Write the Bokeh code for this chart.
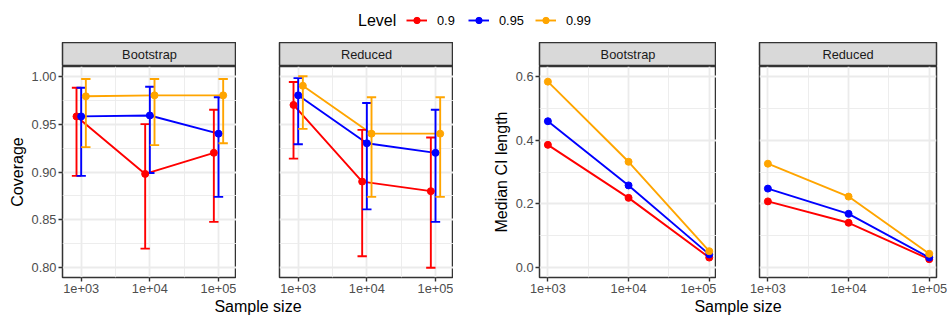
import numpy as np
from bokeh.plotting import figure
from bokeh.models import Range1d, FixedTicker, Label, Legend, LegendItem, PrintfTickFormatter
from bokeh.layouts import row, column
from bokeh.embed import file_html
from bokeh.resources import INLINE

# ---------------- data ----------------
sample_size = [1e3, 1e4, 1e5]
x_ticks = [1e3, 1e4, 1e5]
x_tick_labels = ["1e+03", "1e+04", "1e+05"]
levels = ["0.9", "0.95", "0.99"]
level_colors = ["#FF0000", "#0000FF", "#FFA500"]
methods = ["Bootstrap", "Reduced"]

# Coverage (point, lower, upper) - Bootstrap
cov_boot_090 = [0.958, 0.898, 0.920]
cov_boot_090_lo = [0.896, 0.820, 0.848]
cov_boot_090_hi = [0.988, 0.950, 0.965]
cov_boot_095 = [0.958, 0.959, 0.940]
cov_boot_095_lo = [0.896, 0.899, 0.874]
cov_boot_095_hi = [0.988, 0.989, 0.978]
cov_boot_099 = [0.979, 0.980, 0.980]
cov_boot_099_lo = [0.926, 0.928, 0.930]
cov_boot_099_hi = [0.997, 0.997, 0.997]

# Coverage - Reduced
cov_red_090 = [0.970, 0.890, 0.880]
cov_red_090_lo = [0.914, 0.812, 0.800]
cov_red_090_hi = [0.994, 0.944, 0.936]
cov_red_095 = [0.980, 0.930, 0.920]
cov_red_095_lo = [0.929, 0.861, 0.848]
cov_red_095_hi = [0.998, 0.972, 0.965]
cov_red_099 = [0.990, 0.940, 0.940]
cov_red_099_lo = [0.945, 0.874, 0.874]
cov_red_099_hi = [1.000, 0.978, 0.978]

# Median CI length
len_boot_090 = [0.385, 0.219, 0.032]
len_boot_095 = [0.459, 0.258, 0.042]
len_boot_099 = [0.583, 0.332, 0.052]
len_red_090 = [0.208, 0.141, 0.027]
len_red_095 = [0.248, 0.169, 0.032]
len_red_099 = [0.326, 0.223, 0.044]

cov_y_ticks = [0.80, 0.85, 0.90, 0.95, 1.00]
cov_y_minor = [0.825, 0.875, 0.925, 0.975]
len_y_ticks = [0.0, 0.2, 0.4, 0.6]
len_y_minor = [0.1, 0.3, 0.5]
x_minor = [10 ** 3.5, 10 ** 4.5]

# ---------------- styling / layout ----------------
FONT = "Liberation Sans"
W_TOTAL = 947
LEG_H = 42
STRIP_H = 24
FRAME_H = 211
BOTTOM = 21
TITLE_H = 18
LINE_W = 1.9
PT_SIZE = 7
DODGE = [-0.068, 0.0, 0.068]   # log10 units
CAP = 0.068                     # half cap width, log10 units

cov_xr = (10 ** 2.728, 10 ** 5.262)
len_xr = (10 ** 2.896, 10 ** 5.09)
cov_yr = (0.7899, 1.0101)
len_yr = (-0.0304, 0.6304)


def style_axis(ax):
    ax.axis_line_color = None
    ax.major_tick_line_color = "#333333"
    ax.major_tick_line_width = 1.4
    ax.major_tick_out = 4
    ax.major_tick_in = 0
    ax.minor_tick_line_color = None
    ax.major_label_text_font = FONT
    ax.major_label_text_font_size = "12.8px"
    ax.major_label_text_color = "#4D4D4D"
    ax.major_label_standoff = 2
    ax.axis_label_text_font = FONT
    ax.axis_label_text_font_size = "16px"
    ax.axis_label_text_font_style = "normal"
    ax.axis_label_text_color = "black"
    ax.axis_label_standoff = 3


def make_panel(width, left, right, xr, yr, yticks, yminor, yfmt, show_y, ylabel):
    p = figure(width=width, height=FRAME_H + BOTTOM, x_axis_type="log",
               x_range=Range1d(*xr), y_range=Range1d(*yr),
               min_border_left=left, min_border_right=right,
               min_border_top=0, min_border_bottom=BOTTOM,
               toolbar_location=None, output_backend="svg",
               background_fill_color="white", border_fill_color="white",
               outline_line_color="#333333", outline_line_width=1.5)
    xt = FixedTicker(ticks=x_ticks, minor_ticks=x_minor)
    yt = FixedTicker(ticks=yticks, minor_ticks=yminor)
    p.xaxis.ticker = xt
    p.yaxis.ticker = yt
    p.xgrid.ticker = xt
    p.ygrid.ticker = yt
    p.xaxis.major_label_overrides = {t: s for t, s in zip(x_ticks, x_tick_labels)}
    p.yaxis.formatter = PrintfTickFormatter(format=yfmt)
    style_axis(p.xaxis[0])
    style_axis(p.yaxis[0])
    for g in (p.xgrid[0], p.ygrid[0]):
        g.grid_line_color = "#EBEBEB"
        g.grid_line_width = 1.8
        g.minor_grid_line_color = "#EBEBEB"
        g.minor_grid_line_width = 0.9
    if show_y:
        p.yaxis.axis_label = ylabel
    else:
        p.yaxis.visible = False
    return p


def bare_figure(width, height, xr, yr, left=0, right=0, bg="white", outline=None):
    f = figure(width=width, height=height, x_range=Range1d(*xr), y_range=Range1d(*yr),
               min_border_left=left, min_border_right=right, min_border_top=0, min_border_bottom=0,
               toolbar_location=None, output_backend="svg",
               x_axis_location=None, y_axis_location=None,
               background_fill_color=bg, border_fill_color="white",
               outline_line_color=outline, outline_line_width=1.5)
    f.grid.visible = False
    return f


def make_strip(width, left, right, text):
    s = bare_figure(width, STRIP_H, (0, 1), (0, 1), left, right, bg="#D9D9D9", outline="#333333")
    s.add_layout(Label(x=0.5, y=0.5, text=text, text_align="center", text_baseline="middle",
                       text_font=FONT, text_font_size="12.8px", text_color="#1A1A1A"))
    return s


def draw_coverage(p, series):
    xs_all = []
    for k, (mid, lo, hi) in enumerate(series):
        xd = [s * 10 ** DODGE[k] for s in sample_size]
        xs_all.append(xd)
        p.line(xd, mid, line_color=level_colors[k], line_width=LINE_W)
    for k, (mid, lo, hi) in enumerate(series):
        xd = xs_all[k]
        c = level_colors[k]
        p.segment(x0=xd, y0=lo, x1=xd, y1=hi, line_color=c, line_width=LINE_W)
        xl = [x * 10 ** (-CAP) for x in xd]
        xr_ = [x * 10 ** CAP for x in xd]
        p.segment(x0=xl, y0=hi, x1=xr_, y1=hi, line_color=c, line_width=LINE_W)
        p.segment(x0=xl, y0=lo, x1=xr_, y1=lo, line_color=c, line_width=LINE_W)
    for k, (mid, lo, hi) in enumerate(series):
        p.scatter(xs_all[k], mid, size=PT_SIZE, color=level_colors[k])


def draw_length(p, series):
    for k, vals in enumerate(series):
        p.line(sample_size, vals, line_color=level_colors[k], line_width=LINE_W)
    for k, vals in enumerate(series):
        p.scatter(sample_size, vals, size=PT_SIZE, color=level_colors[k])


# figure geometry (left border, frame width, right border)
A = (62, 174, 0)
B = (43, 174, 0)
C = (86, 177, 0)
D = (43, 177, 11)

specs = [
    (A, cov_xr, cov_yr, cov_y_ticks, cov_y_minor, "%.2f", True, "Coverage", methods[0]),
    (B, cov_xr, cov_yr, cov_y_ticks, cov_y_minor, "%.2f", False, "", methods[1]),
    (C, len_xr, len_yr, len_y_ticks, len_y_minor, "%.1f", True, "Median CI length", methods[0]),
    (D, len_xr, len_yr, len_y_ticks, len_y_minor, "%.1f", False, "", methods[1]),
]
figs = []
for (geo, xr, yr, yt, ym, fmt, show_y, ylab, meth) in specs:
    l, fw, r = geo
    w = l + fw + r
    p = make_panel(w, l, r, xr, yr, yt, ym, fmt, show_y, ylab)
    s = make_strip(w, l, r, meth)
    figs.append((s, p))

draw_coverage(figs[0][1], [(cov_boot_090, cov_boot_090_lo, cov_boot_090_hi),
                           (cov_boot_095, cov_boot_095_lo, cov_boot_095_hi),
                           (cov_boot_099, cov_boot_099_lo, cov_boot_099_hi)])
draw_coverage(figs[1][1], [(cov_red_090, cov_red_090_lo, cov_red_090_hi),
                           (cov_red_095, cov_red_095_lo, cov_red_095_hi),
                           (cov_red_099, cov_red_099_lo, cov_red_099_hi)])
draw_length(figs[2][1], [len_boot_090, len_boot_095, len_boot_099])
draw_length(figs[3][1], [len_red_090, len_red_095, len_red_099])

# ---------------- legend strip ----------------
lf = bare_figure(W_TOTAL, LEG_H, (0, W_TOTAL), (0, LEG_H))
items = []
legend_series = [len_boot_090, len_boot_095, len_boot_099]
for lev, col, vals in zip(levels, level_colors, legend_series):
    # key renderers: the data lie far outside this strip's ranges, only the key is seen
    r1 = lf.line(sample_size, vals, line_color=col, line_width=LINE_W)
    r2 = lf.scatter(sample_size, vals, color=col, size=PT_SIZE)
    items.append(LegendItem(label=lev, renderers=[r1, r2]))
leg = Legend(items=items, location=(406, 14), orientation="horizontal",
             glyph_width=21, glyph_height=16, label_standoff=10, spacing=11,
             padding=0, margin=0, border_line_color=None, background_fill_alpha=0,
             label_text_font=FONT, label_text_font_size="12.8px", label_text_color="black",
             label_height=16)
lf.add_layout(leg)
lf.add_layout(Label(x=357.5, y=22, text="Level", text_align="left", text_baseline="middle",
                    text_font=FONT, text_font_size="16px", text_color="black"))

# ---------------- bottom titles ----------------
bf = bare_figure(W_TOTAL, TITLE_H, (0, W_TOTAL), (0, TITLE_H))
grp1_left = A[0]
grp1_right = A[0] + A[1] + A[2] + B[0] + B[1]
off2 = A[0] + A[1] + A[2] + B[0] + B[1] + B[2]
grp2_left = off2 + C[0]
grp2_right = off2 + C[0] + C[1] + C[2] + D[0] + D[1]
for cx in [(grp1_left + grp1_right) / 2.0, (grp2_left + grp2_right) / 2.0]:
    bf.add_layout(Label(x=cx, y=10.5, text="Sample size", text_align="center", text_baseline="middle",
                        text_font=FONT, text_font_size="16px", text_color="black"))

layout = column(lf, row(*[column(s, p) for s, p in figs]), bf)

open("out.html", "w").write(file_html(layout, INLINE))
